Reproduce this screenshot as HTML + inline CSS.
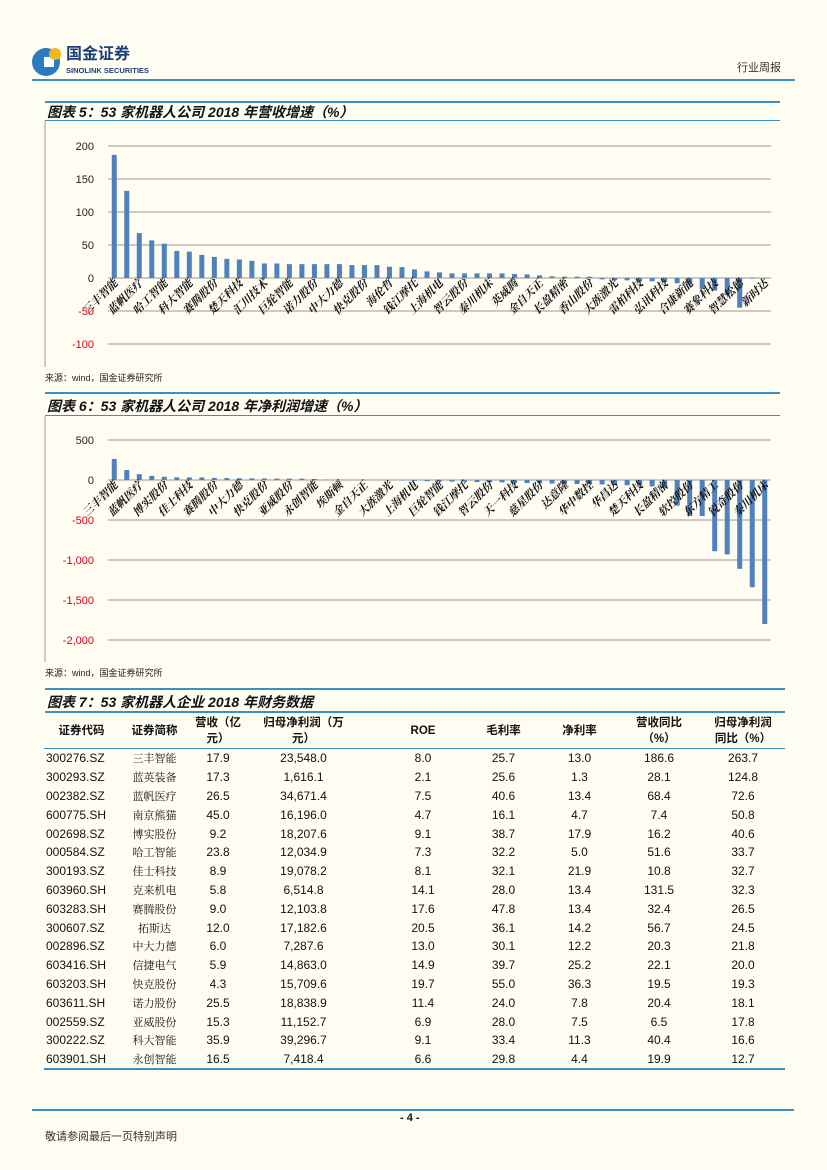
<!DOCTYPE html>
<html><head><meta charset="utf-8">
<style>
body{margin:0;background:#fffcf2;}
#page{position:relative;width:827px;height:1170px;background:#fffcf2;overflow:hidden;font-family:"Liberation Sans","Noto Sans CJK SC",sans-serif;color:#111;}
.abs{position:absolute;}
.hl{position:absolute;height:2px;background:#3b8fc4;}
.title{position:absolute;left:47px;font-size:14px;font-weight:bold;font-style:italic;font-family:"Liberation Sans","Noto Sans CJK SC",sans-serif;}
.src{position:absolute;left:45px;font-size:9px;color:#222;}
table{position:absolute;left:44px;top:713px;width:741px;border-collapse:collapse;font-size:12px;table-layout:fixed;}
td{text-align:center;height:18.8px;padding:0;}
th{font-size:11.5px;font-weight:bold;height:35px;padding:0;line-height:16px;}
td.c{text-align:left;padding-left:2px;}
td.n{font-family:"Noto Serif CJK SC","Liberation Serif",serif;font-size:11px;}
.p4{padding-left:20px;}
</style></head><body>
<div id="page">
<svg class="abs" style="left:30px;top:44px" width="36" height="36"><circle cx="16" cy="18" r="14" fill="#2a7bbf"/><rect x="14" y="13" width="10" height="10" fill="#fff"/><circle cx="25" cy="10" r="6" fill="#f3b51b"/></svg>
<div class="abs" style="left:66px;top:46px;font-size:16px;line-height:18px;font-weight:bold;color:#1b3e78">国金证券</div>
<div class="abs" style="left:66px;top:66px;font-size:7.5px;line-height:9px;font-weight:bold;color:#1b3e78">SINOLINK SECURITIES</div>
<div class="abs" style="left:737px;top:59px;font-size:11px;color:#333">行业周报</div>
<div class="hl" style="left:32px;top:79px;width:763px;height:1.5px"></div>

<div class="hl" style="left:45px;top:101px;width:735px"></div>
<div class="title" style="top:102px">图表 5：53 家机器人公司 2018 年营收增速（%）</div>
<div class="hl" style="left:45px;top:120px;width:735px;height:1px"></div>
<svg id="c5" class="abs" style="left:44px;top:121px" width="737" height="246"></svg>
<div class="src" style="top:371px">来源：wind，国金证券研究所</div>

<div class="hl" style="left:45px;top:392px;width:735px"></div>
<div class="title" style="top:396px">图表 6：53 家机器人公司 2018 年净利润增速（%）</div>
<div class="hl" style="left:45px;top:415px;width:735px;height:1px"></div>
<svg id="c6" class="abs" style="left:44px;top:416px" width="737" height="246"></svg>
<div class="src" style="top:666px">来源：wind，国金证券研究所</div>

<div class="hl" style="left:45px;top:688px;width:740px"></div>
<div class="title" style="top:692px">图表 7：53 家机器人企业 2018 年财务数据</div>
<div class="hl" style="left:45px;top:711px;width:740px;height:1.5px"></div>
<table id="tbl">
<colgroup><col style="width:75px"><col style="width:71px"><col style="width:56px"><col style="width:115px"><col style="width:104px"><col style="width:77px"><col style="width:75px"><col style="width:84px"><col style="width:84px"></colgroup>
<tr style="border-bottom:1px solid #3b8fc4">
<th>证券代码</th><th>证券简称</th><th>营收（亿<br>元）</th><th>归母净利润（万<br>元）</th><th class="p4">ROE</th><th>毛利率</th><th>净利率</th><th>营收同比<br>（%）</th><th>归母净利润<br>同比（%）</th></tr>
</table>
<div class="hl" style="left:44px;top:1068px;width:741px;height:1.5px"></div>

<div class="hl" style="left:32px;top:1109px;width:762px;height:1.5px"></div>
<div class="abs" style="left:400px;top:1112px;font-size:11px;font-weight:bold">- 4 -</div>
<div class="abs" style="left:45px;top:1128px;font-size:11px;color:#333">敬请参阅最后一页特别声明</div>
</div>
<script>
const names5=["三丰智能","蓝帆医疗","哈工智能","科大智能","赛腾股份","楚天科技","汇川技术","巨轮智能","诺力股份","中大力德","快克股份","海伦哲","钱江摩托","上海机电","智云股份","秦川机床","英威腾","金自天正","长盈精密","香山股份","大族激光","雷柏科技","弘讯科技","合康新能","赛象科技","智慧松德","新时达"];
const values5=[186.6,132,68,57,52,41,40,35,32,29,28,26,22,22,21,21,21,21,21,19.5,19.5,19.5,17,16.5,13,10,8.5,7,7,7,7,7,6,5.5,4,2.5,2,2,2,-2,-3,-3.5,-5,-5,-6,-8,-10,-16,-19,-26,-45,-1,0];
const ticks5=[200,150,100,50,0,-50,-100];
const names6=["三丰智能","蓝帆医疗","博实股份","佳士科技","赛腾股份","中大力德","快克股份","亚威股份","永创智能","埃斯顿","金自天正","大族激光","上海机电","巨轮智能","钱江摩托","智云股份","天一科技","慈星股份","达意隆","华中数控","华昌达","楚天科技","长盈精密","软控股份","东方精工","锐奇股份","秦川机床"];
const values6=[263.7,124.8,72.6,50.8,40.6,33.7,32.7,32.3,26.5,24.5,21.8,20,19.3,18.1,17.8,16.6,12.7,6,5,4,2,0,-2,-5,-10,-15,-18,-20,-22,-25,-28,-30,-35,-38,-40,-45,-48,-50,-52,-55,-60,-65,-70,-80,-100,-320,-450,-450,-890,-930,-1110,-1340,-1800];
const ticks6=[500,0,-500,-1000,-1500,-2000];
const ticks6Labels=["500","0","-500","-1,000","-1,500","-2,000"];
const NS="http://www.w3.org/2000/svg";
function mk(svg,tag,attrs){const e=document.createElementNS(NS,tag);for(const k in attrs)e.setAttribute(k,attrs[k]);svg.appendChild(e);return e;}
function chart(id,vals,names,ticks,labels,yTop,yBot,tMax,tMin,prefix){
  const svg=document.getElementById(id);
  const l=mk(svg,'line',{x1:1,y1:0,x2:1,y2:246,stroke:'#999','stroke-width':1});
  
  const y=v=>yTop+(tMax-v)/(tMax-tMin)*(yBot-yTop);
  const x0=64,x1=727;
  ticks.forEach((t,i)=>{
    const g=mk(svg,'line',{x1:x0,x2:x1,y1:y(t),y2:y(t),stroke:'#999','stroke-width':1});
    
    const tx=mk(svg,'text',{x:x0-14,y:y(t)+4,'text-anchor':'end','font-size':11,fill:t<0?'#d0021b':'#222','font-family':'Liberation Sans,sans-serif'});
    tx.textContent=labels?labels[i]:String(t);
    
  });
  const n=vals.length,step=(x1-x0)/n;
  vals.forEach((v,i)=>{
    const cx=x0+step*(i+0.5);
    const r=mk(svg,'rect',{x:cx-2.5,width:5,y:Math.min(y(v),y(0)),height:Math.abs(y(v)-y(0)),fill:'#4f81bd'});
    
  });
  names.forEach((nm,j)=>{
    const cx=x0+step*(2*j+0.5)+4, cy=y(0)+6;
    const t=mk(svg,'text',{x:cx,y:cy,'text-anchor':'end','font-size':11,fill:'#111','font-weight':'bold','font-style':'italic','font-family':'Noto Serif CJK SC,serif',transform:`rotate(-45 ${cx} ${cy})`});
    t.textContent=nm;
    
  });
}
chart('c5',values5,names5,ticks5,null,25,223,200,-100,'revenue-growth');
chart('c6',values6,names6,ticks6,ticks6Labels,24,224,500,-2000,'profit-growth');
const rows=[
["300276.SZ","三丰智能","17.9","23,548.0","8.0","25.7","13.0","186.6","263.7"],
["300293.SZ","蓝英装备","17.3","1,616.1","2.1","25.6","1.3","28.1","124.8"],
["002382.SZ","蓝帆医疗","26.5","34,671.4","7.5","40.6","13.4","68.4","72.6"],
["600775.SH","南京熊猫","45.0","16,196.0","4.7","16.1","4.7","7.4","50.8"],
["002698.SZ","博实股份","9.2","18,207.6","9.1","38.7","17.9","16.2","40.6"],
["000584.SZ","哈工智能","23.8","12,034.9","7.3","32.2","5.0","51.6","33.7"],
["300193.SZ","佳士科技","8.9","19,078.2","8.1","32.1","21.9","10.8","32.7"],
["603960.SH","克来机电","5.8","6,514.8","14.1","28.0","13.4","131.5","32.3"],
["603283.SH","赛腾股份","9.0","12,103.8","17.6","47.8","13.4","32.4","26.5"],
["300607.SZ","拓斯达","12.0","17,182.6","20.5","36.1","14.2","56.7","24.5"],
["002896.SZ","中大力德","6.0","7,287.6","13.0","30.1","12.2","20.3","21.8"],
["603416.SH","信捷电气","5.9","14,863.0","14.9","39.7","25.2","22.1","20.0"],
["603203.SH","快克股份","4.3","15,709.6","19.7","55.0","36.3","19.5","19.3"],
["603611.SH","诺力股份","25.5","18,838.9","11.4","24.0","7.8","20.4","18.1"],
["002559.SZ","亚威股份","15.3","11,152.7","6.9","28.0","7.5","6.5","17.8"],
["300222.SZ","科大智能","35.9","39,296.7","9.1","33.4","11.3","40.4","16.6"],
["603901.SH","永创智能","16.5","7,418.4","6.6","29.8","4.4","19.9","12.7"]];
const tbl=document.getElementById('tbl');
rows.forEach(r=>{
  const tr=document.createElement('tr');
  
  
  r.forEach((c,i)=>{const td=document.createElement('td');td.textContent=c;if(i==0)td.className='c';if(i==1)td.className='n';if(i==4)td.className='p4';tr.appendChild(td);});
  tbl.appendChild(tr);
});
</script>
</body></html>
